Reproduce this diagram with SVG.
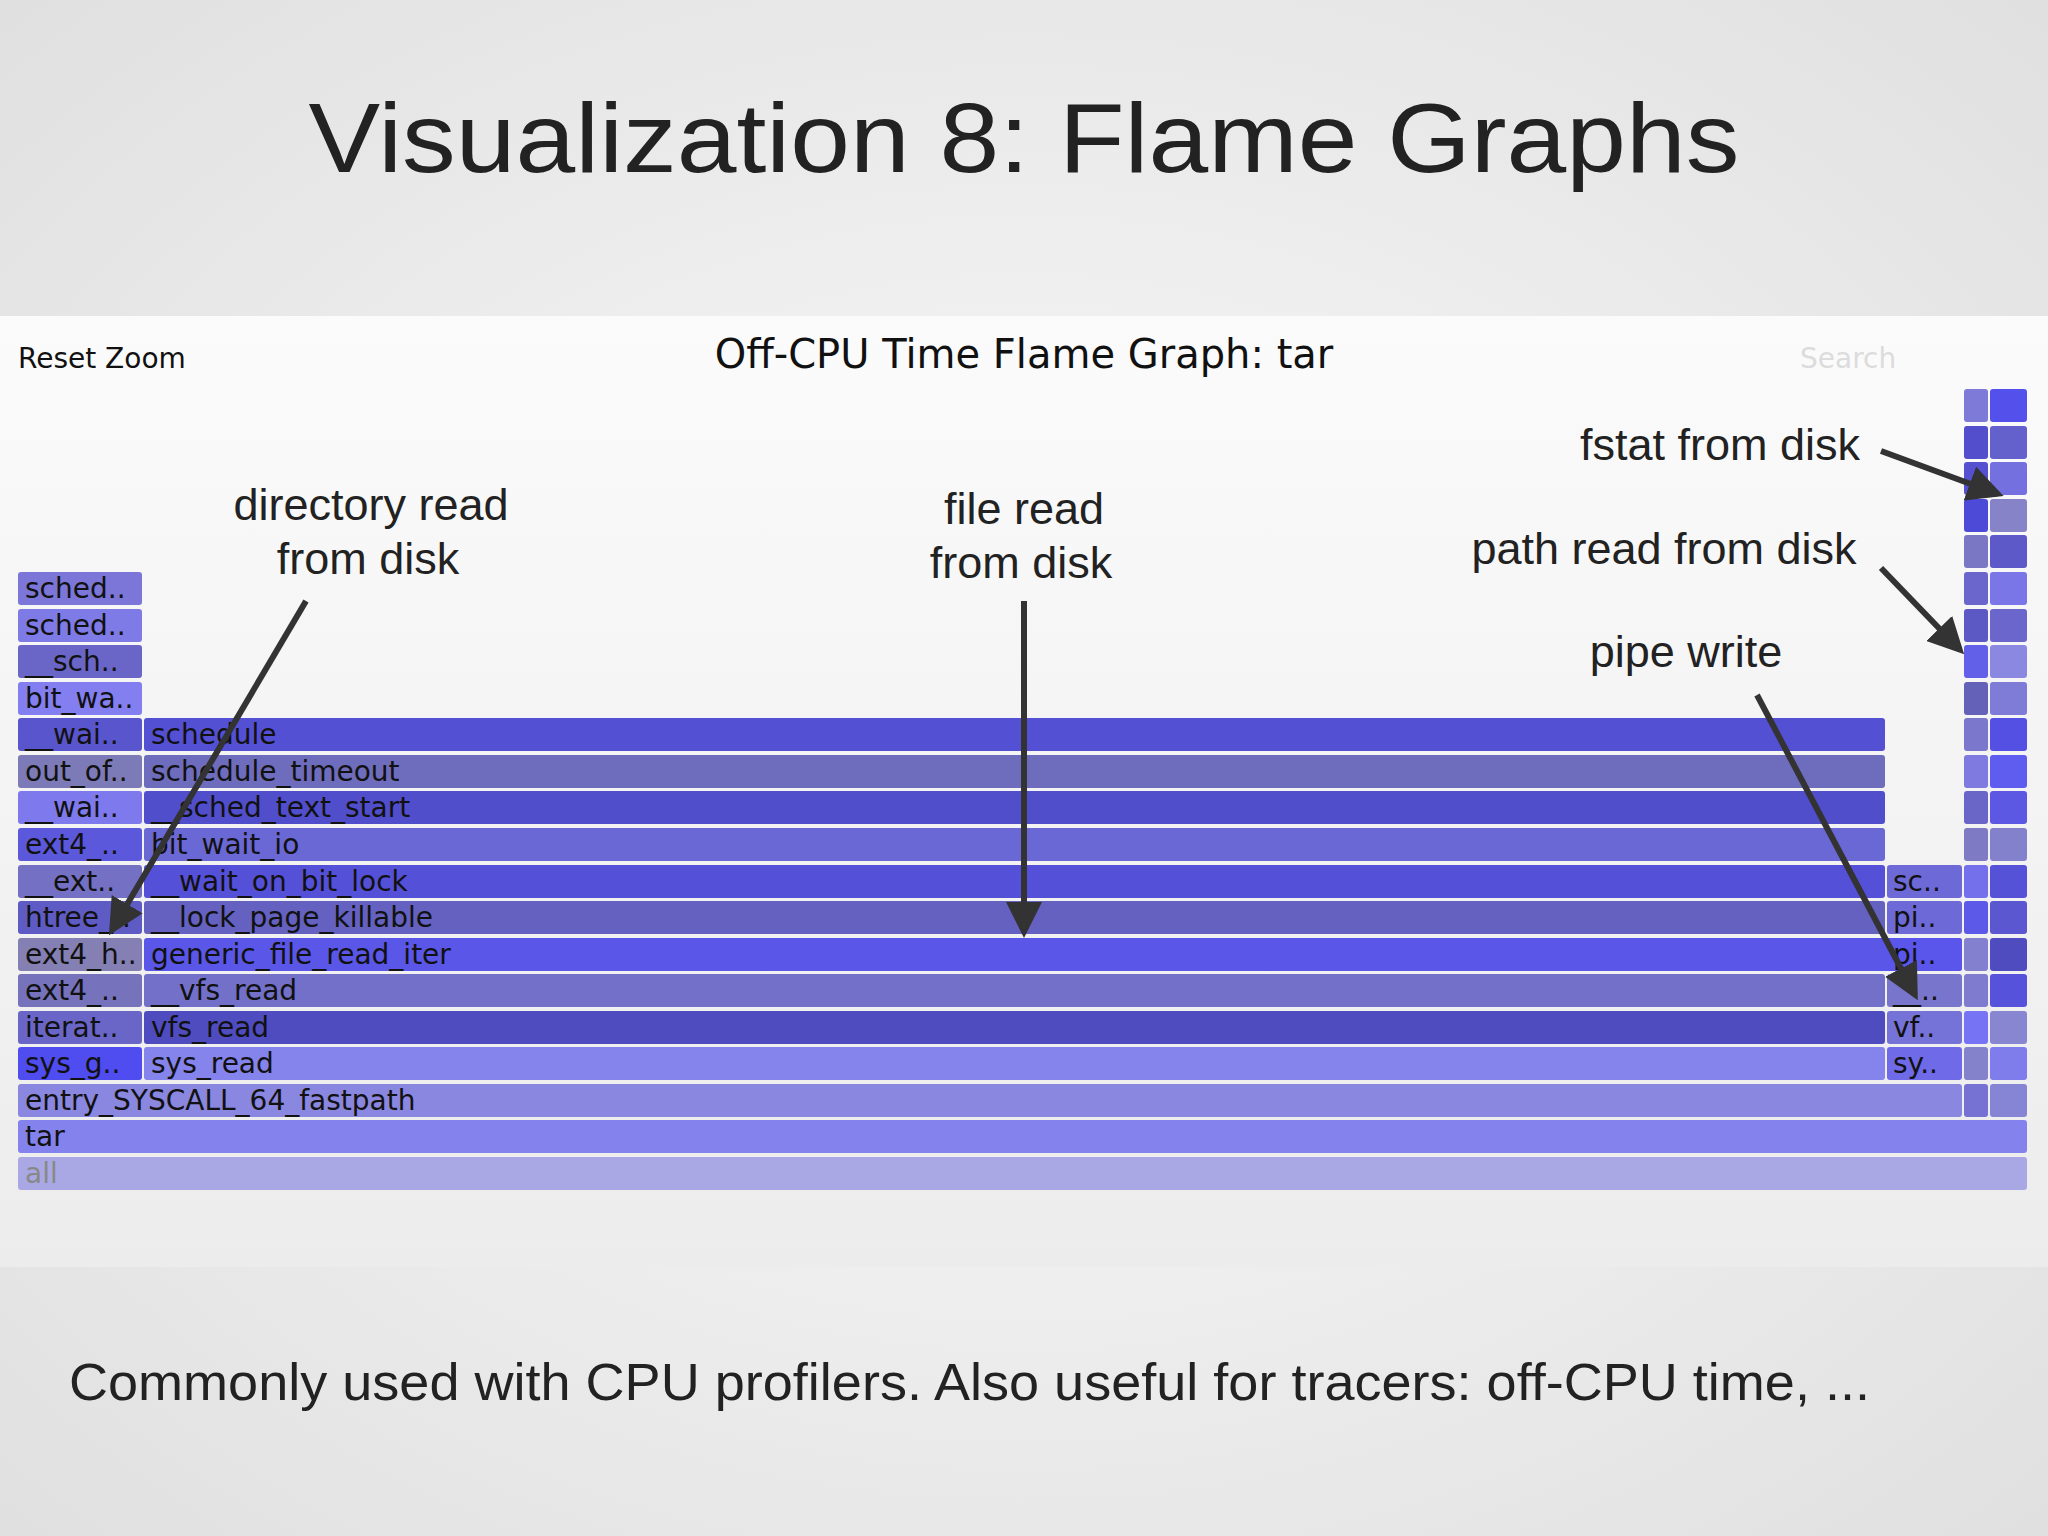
<svg xmlns="http://www.w3.org/2000/svg" width="2048" height="1536" viewBox="0 0 2048 1536">
<defs>
<radialGradient id="bg" cx="50%" cy="50%" r="75%"><stop offset="0" stop-color="#fbfbfb"/><stop offset="1" stop-color="#dedede"/></radialGradient>
<linearGradient id="band" x1="0" y1="0" x2="0" y2="1"><stop offset="0" stop-color="#fbfbfb"/><stop offset="1" stop-color="#ececec"/></linearGradient>
<marker id="ah" markerWidth="6" markerHeight="6" refX="5" refY="3" orient="auto" markerUnits="strokeWidth"><path d="M0,0 L6,3 L0,6 z" fill="#333"/></marker>
</defs>
<style>
.f{stroke:none}
.t{font-family:"DejaVu Sans",Verdana,sans-serif;font-size:28px;fill:#111}
.a{font-family:"Liberation Sans",Arial,sans-serif;font-size:45px;fill:#222;text-anchor:middle}
.c{stroke:#333;stroke-width:6;fill:none;marker-end:url(#ah)}
</style>
<rect width="2048" height="1536" fill="url(#bg)"/>
<rect x="0" y="316" width="2048" height="951" fill="url(#band)"/>
<text x="1024" y="172" text-anchor="middle" font-family="'Liberation Sans',Arial,sans-serif" font-size="98" fill="#222" textLength="1431" lengthAdjust="spacingAndGlyphs">Visualization 8: Flame Graphs</text>
<text x="1024" y="368" text-anchor="middle" font-family="'DejaVu Sans',Verdana,sans-serif" font-size="40" fill="#111">Off-CPU Time Flame Graph: tar</text>
<text x="18" y="368" font-family="'DejaVu Sans',Verdana,sans-serif" font-size="28" fill="#111">Reset Zoom</text>
<text x="1800" y="368" font-family="'DejaVu Sans',Verdana,sans-serif" font-size="28" fill="#dcdcdc">Search</text>
<g id="frames">
<g id="left">
<rect x="18" y="572" width="124" height="33" rx="3" fill="#7b76d8"/><text class="t" x="25" y="598">sched..</text>
<rect x="18" y="609" width="124" height="33" rx="3" fill="#7f7be6"/><text class="t" x="25" y="635">sched..</text>
<rect x="18" y="645" width="124" height="33" rx="3" fill="#6a66c8"/><text class="t" x="25" y="671">__sch..</text>
<rect x="18" y="682" width="124" height="33" rx="3" fill="#837ff0"/><text class="t" x="25" y="708">bit_wa..</text>
<rect x="18" y="718" width="124" height="33" rx="3" fill="#5955cc"/><text class="t" x="25" y="744">__wai..</text>
<rect x="18" y="755" width="124" height="33" rx="3" fill="#7d7ab8"/><text class="t" x="25" y="781">out_of..</text>
<rect x="18" y="791" width="124" height="33" rx="3" fill="#7e7aee"/><text class="t" x="25" y="817">__wai..</text>
<rect x="18" y="828" width="124" height="33" rx="3" fill="#5c58dc"/><text class="t" x="25" y="854">ext4_..</text>
<rect x="18" y="865" width="124" height="33" rx="3" fill="#7471c4"/><text class="t" x="25" y="891">__ext..</text>
<rect x="18" y="901" width="124" height="33" rx="3" fill="#5f5bc4"/><text class="t" x="25" y="927">htree_..</text>
<rect x="18" y="938" width="124" height="33" rx="3" fill="#8480b4"/><text class="t" x="25" y="964">ext4_h..</text>
<rect x="18" y="974" width="124" height="33" rx="3" fill="#7672bc"/><text class="t" x="25" y="1000">ext4_..</text>
<rect x="18" y="1011" width="124" height="33" rx="3" fill="#6966c8"/><text class="t" x="25" y="1037">iterat..</text>
<rect x="18" y="1047" width="124" height="33" rx="3" fill="#4f4cf0"/><text class="t" x="25" y="1073">sys_g..</text>
</g>
<g id="main">
<rect x="144" y="718" width="1741" height="33" rx="3" fill="#5450d4"/><text class="t" x="151" y="744">schedule</text>
<rect x="144" y="755" width="1741" height="33" rx="3" fill="#6e6cbc"/><text class="t" x="151" y="781">schedule_timeout</text>
<rect x="144" y="791" width="1741" height="33" rx="3" fill="#514ecc"/><text class="t" x="151" y="817">__sched_text_start</text>
<rect x="144" y="828" width="1741" height="33" rx="3" fill="#6a68d4"/><text class="t" x="151" y="854">bit_wait_io</text>
<rect x="144" y="865" width="1741" height="33" rx="3" fill="#5450d8"/><text class="t" x="151" y="891">__wait_on_bit_lock</text>
<rect x="144" y="901" width="1741" height="33" rx="3" fill="#6461c0"/><text class="t" x="151" y="927">__lock_page_killable</text>
<rect x="144" y="938" width="1818" height="33" rx="3" fill="#5a57e8"/><text class="t" x="151" y="964">generic_file_read_iter</text>
<rect x="144" y="974" width="1741" height="33" rx="3" fill="#7270c8"/><text class="t" x="151" y="1000">__vfs_read</text>
<rect x="144" y="1011" width="1741" height="33" rx="3" fill="#4f4cc0"/><text class="t" x="151" y="1037">vfs_read</text>
<rect x="144" y="1047" width="1741" height="33" rx="3" fill="#8583ec"/><text class="t" x="151" y="1073">sys_read</text>
<rect x="18" y="1084" width="1944" height="33" rx="3" fill="#8a87e0"/><text class="t" x="25" y="1110">entry_SYSCALL_64_fastpath</text>
<rect x="18" y="1120" width="2009" height="33" rx="3" fill="#8482ec"/><text class="t" x="25" y="1146">tar</text>
<rect x="18" y="1157" width="2009" height="33" rx="3" fill="#aaa8e4"/><text class="t" x="25" y="1183" style="fill:#888">all</text>
</g>
<g id="narrow">
<rect x="1887" y="865" width="75" height="33" rx="3" fill="#6d6ad8"/><text class="t" x="1893" y="891">sc..</text>
<rect x="1887" y="901" width="75" height="33" rx="3" fill="#6d6ad8"/><text class="t" x="1893" y="927">pi..</text>
<rect x="1887" y="938" width="75" height="33" rx="3" fill="#5a56ec"/><text class="t" x="1893" y="964">pi..</text>
<rect x="1887" y="974" width="75" height="33" rx="3" fill="#7875cc"/><text class="t" x="1893" y="1000">__..</text>
<rect x="1887" y="1011" width="75" height="33" rx="3" fill="#7572d8"/><text class="t" x="1893" y="1037">vf..</text>
<rect x="1887" y="1047" width="75" height="33" rx="3" fill="#6e6ae8"/><text class="t" x="1893" y="1073">sy..</text>
</g>
<g id="towers">
<rect x="1964" y="389" width="24" height="33" rx="3" fill="#7d7ad8"/><rect x="1990" y="389" width="37" height="33" rx="3" fill="#5450ec"/>
<rect x="1964" y="426" width="24" height="33" rx="3" fill="#524ecc"/><rect x="1990" y="426" width="37" height="33" rx="3" fill="#6461cc"/>
<rect x="1964" y="462" width="24" height="33" rx="3" fill="#5450d0"/><rect x="1990" y="462" width="37" height="33" rx="3" fill="#7470e0"/>
<rect x="1964" y="499" width="24" height="33" rx="3" fill="#4e4ad8"/><rect x="1990" y="499" width="37" height="33" rx="3" fill="#8683c8"/>
<rect x="1964" y="535" width="24" height="33" rx="3" fill="#7a78c4"/><rect x="1990" y="535" width="37" height="33" rx="3" fill="#5d59c8"/>
<rect x="1964" y="572" width="24" height="33" rx="3" fill="#6a66cc"/><rect x="1990" y="572" width="37" height="33" rx="3" fill="#7a76e8"/>
<rect x="1964" y="609" width="24" height="33" rx="3" fill="#5d59c4"/><rect x="1990" y="609" width="37" height="33" rx="3" fill="#6a66cc"/>
<rect x="1964" y="645" width="24" height="33" rx="3" fill="#625fe8"/><rect x="1990" y="645" width="37" height="33" rx="3" fill="#8a88e0"/>
<rect x="1964" y="682" width="24" height="33" rx="3" fill="#6461b8"/><rect x="1990" y="682" width="37" height="33" rx="3" fill="#7f7cd8"/>
<rect x="1964" y="718" width="24" height="33" rx="3" fill="#7a77cc"/><rect x="1990" y="718" width="37" height="33" rx="3" fill="#5450e4"/>
<rect x="1964" y="755" width="24" height="33" rx="3" fill="#7e7ae0"/><rect x="1990" y="755" width="37" height="33" rx="3" fill="#5f5cf0"/>
<rect x="1964" y="791" width="24" height="33" rx="3" fill="#6966c8"/><rect x="1990" y="791" width="37" height="33" rx="3" fill="#5c58e4"/>
<rect x="1964" y="828" width="24" height="33" rx="3" fill="#7e7bc4"/><rect x="1990" y="828" width="37" height="33" rx="3" fill="#8381cc"/>
<rect x="1964" y="865" width="24" height="33" rx="3" fill="#7470ec"/><rect x="1990" y="865" width="37" height="33" rx="3" fill="#5652d8"/>
<rect x="1964" y="901" width="24" height="33" rx="3" fill="#5c58e8"/><rect x="1990" y="901" width="37" height="33" rx="3" fill="#5a57d0"/>
<rect x="1964" y="938" width="24" height="33" rx="3" fill="#8380d0"/><rect x="1990" y="938" width="37" height="33" rx="3" fill="#4f4cc0"/>
<rect x="1964" y="974" width="24" height="33" rx="3" fill="#7f7cd0"/><rect x="1990" y="974" width="37" height="33" rx="3" fill="#5652dc"/>
<rect x="1964" y="1011" width="24" height="33" rx="3" fill="#7673f4"/><rect x="1990" y="1011" width="37" height="33" rx="3" fill="#8886d0"/>
<rect x="1964" y="1047" width="24" height="33" rx="3" fill="#8582cc"/><rect x="1990" y="1047" width="37" height="33" rx="3" fill="#7f7cec"/>
<rect x="1964" y="1084" width="24" height="33" rx="3" fill="#7572d4"/><rect x="1990" y="1084" width="37" height="33" rx="3" fill="#8684d4"/>
</g>
</g>
<g id="annotations">
<text class="a" x="371" y="520">directory read</text>
<text class="a" x="368" y="574">from disk</text>
<text class="a" x="1024" y="524">file read</text>
<text class="a" x="1021" y="578">from disk</text>
<text class="a" x="1720" y="460">fstat from disk</text>
<text class="a" x="1664" y="564">path read from disk</text>
<text class="a" x="1686" y="667">pipe write</text>
</g>
<g id="connectors">
<line class="c" x1="306" y1="601" x2="112" y2="930"/>
<line class="c" x1="1024" y1="601" x2="1024" y2="932"/>
<line class="c" x1="1881" y1="451" x2="1998" y2="494"/>
<line class="c" x1="1881" y1="568" x2="1960" y2="650"/>
<line class="c" x1="1757" y1="695" x2="1915" y2="995"/>
</g>
<text x="69" y="1400" font-family="'Liberation Sans',Arial,sans-serif" font-size="52" fill="#222" textLength="1801" lengthAdjust="spacingAndGlyphs">Commonly used with CPU profilers. Also useful for tracers: off-CPU time, ...</text>
</svg>
